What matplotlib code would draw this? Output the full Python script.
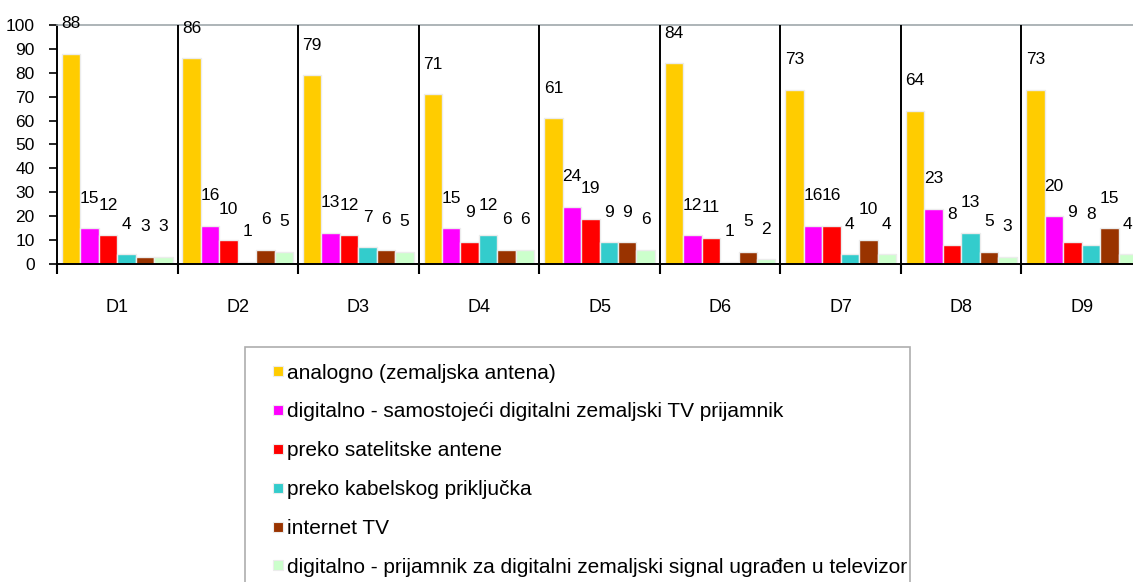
import numpy as np
import matplotlib
matplotlib.use("Agg")
import matplotlib.pyplot as plt
from matplotlib.lines import Line2D

# ==========================
# DATA
# ==========================
categories = ["D1", "D2", "D3", "D4", "D5", "D6", "D7", "D8", "D9"]

series_names = [
    "analogno (zemaljska antena)",
    "digitalno - samostojeći digitalni zemaljski TV prijamnik",
    "preko satelitske antene",
    "preko kabelskog priključka",
    "internet TV",
    "digitalno - prijamnik za digitalni zemaljski signal ugrađen u televizor",
]

analogno = [88, 86, 79, 71, 61, 84, 73, 64, 73]
samostojeci = [15, 16, 13, 15, 24, 12, 16, 23, 20]
satelit = [12, 10, 12, 9, 19, 11, 16, 8, 9]
kabel = [4, 1, 7, 12, 9, 1, 4, 13, 8]
internet_tv = [3, 6, 6, 6, 9, 5, 10, 5, 15]
ugradjen = [3, 5, 5, 6, 6, 2, 4, 3, 4]

series = [analogno, samostojeci, satelit, kabel, internet_tv, ugradjen]
colors = ["#FFCC00", "#FF00FF", "#FF0000", "#33CCCC", "#993300", "#CCFFCC"]

# ==========================
# STYLE
# ==========================
plt.rcParams["font.family"] = ["Liberation Sans", "DejaVu Sans"]
plt.rcParams["font.size"] = 12

W, H = 1133, 582
fig = plt.figure(figsize=(W / 100, H / 100), dpi=100)

# plot area runs past the right edge, like the source
left, right_px, top, bottom = 57, 1142, 25, 264
ax = fig.add_axes([left / W, 1 - bottom / H, (right_px - left) / W, (bottom - top) / H])

x = np.arange(len(categories))
bw = 0.153

# ==========================
# BARS + LABELS
# ==========================
for k, (vals, col) in enumerate(zip(series, colors)):
    pos = x + (k - 2.5) * bw
    ax.bar(pos, vals, width=bw, color=col, edgecolor="#ececec", linewidth=1.0,
           zorder=2)
    for px, v in zip(pos, vals):
        ax.text(px, v + 12.6, str(v), ha="center", va="center", fontsize=12.5)

# ==========================
# AXES
# ==========================
ax.set_xlim(-0.5, len(categories) - 0.5)
ax.set_ylim(0, 100)
ax.set_yticks(range(0, 101, 10))
ax.tick_params(axis="y", length=6, width=1.2, pad=10, labelsize=12.5)

bounds = np.arange(len(categories) + 1) - 0.5
ax.set_xticks(bounds)
ax.set_xticklabels([])
ax.tick_params(axis="x", which="major", length=7, width=1.5, direction="out")
ax.set_xticks(x, minor=True)
ax.set_xticklabels(categories, minor=True)
ax.tick_params(axis="x", which="minor", length=0, pad=25, labelsize=13)

ax.vlines(bounds[1:-1], 0, 100, color="black", linewidth=1.4, zorder=3)

for s in ["left", "bottom"]:
    ax.spines[s].set_color("black")
    ax.spines[s].set_linewidth(1.4)
ax.spines["top"].set_color("#a0a8ab")
ax.spines["top"].set_linewidth(1.2)
ax.spines["right"].set_visible(False)

# ==========================
# LEGEND
# ==========================
handles = [
    Line2D([], [], linestyle="none", marker="s", markersize=6.5,
           markerfacecolor=c, markeredgecolor="#ececec", markeredgewidth=0.8)
    for c in colors
]

leg = fig.legend(
    handles, series_names,
    loc="upper left",
    bbox_to_anchor=(245 / W, 1 - 347 / H, 665 / W, 0.0),
    mode="expand",
    ncol=1,
    frameon=True,
    fancybox=False,
    numpoints=1,
    handlelength=1.6,
    handletextpad=-0.37,
    labelspacing=0.95,
    borderpad=0.8,
    borderaxespad=0,
    fontsize=15,
)
leg.get_frame().set_edgecolor("#999999")
leg.get_frame().set_linewidth(1.2)

fig.savefig("out.png", dpi=100)
